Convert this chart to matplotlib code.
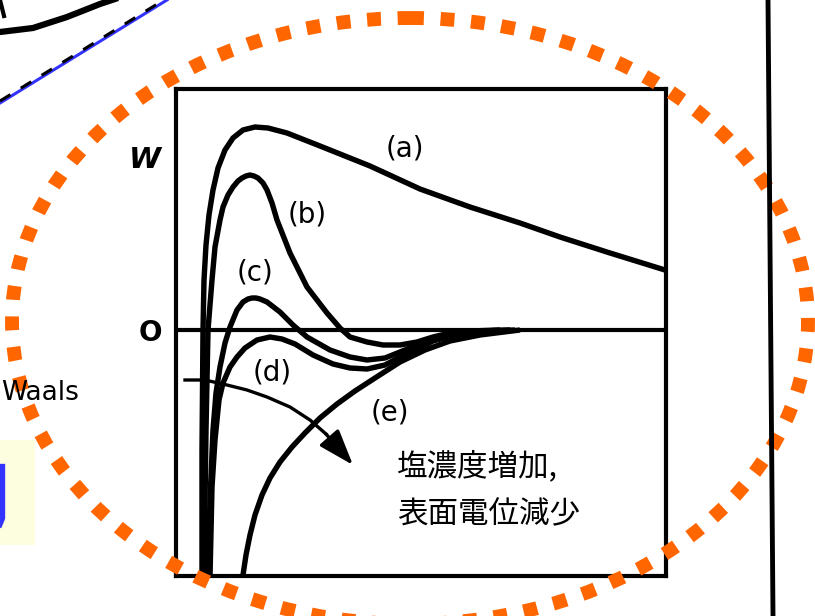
import numpy as np
import matplotlib
matplotlib.use("Agg")
import matplotlib.pyplot as plt
from matplotlib.patches import Ellipse, Rectangle

# ---------------------------
# DATA (x = separation, W = interaction energy, zero at the "O" line)
# ---------------------------

a_x = [26, 26, 27, 28, 30, 33, 37, 42, 49, 57, 67, 79, 92, 111, 144, 194, 244, 294, 344, 384, 434, 489]
a_w = [-247, -120, 0, 50, 85, 115, 140, 162, 180, 192, 200, 203, 202, 197, 184, 164, 141, 123, 107, 93, 77, 60]

b_x = [28, 30, 32, 36, 39, 44, 47, 52, 57, 62, 66, 70, 74, 78, 82, 87, 91, 96, 101, 114, 131, 151, 164, 174, 191, 207, 224, 241, 257, 274, 294, 324]
b_w = [-247, -100, 0, 50, 83, 110, 123, 135, 143, 149, 152, 154, 155, 154, 152, 147, 140, 127, 110, 77, 43, 17, 2, -7, -12, -15, -15, -12, -7, -3, -1, 0]

c_x = [32, 34, 37, 40, 44, 49, 54, 61, 67, 72, 76, 80, 84, 91, 104, 117, 131, 154, 174, 191, 209, 224, 241, 257, 279, 304, 334]
c_w = [-247, -170, -100, -63, -37, -13, 3, 20, 28, 31, 32, 32, 31, 28, 18, 5, -7, -20, -27, -30, -28, -22, -15, -9, -3, -1, 0]

d_x = [34, 36, 39, 43, 47, 54, 61, 69, 81, 94, 106, 119, 137, 157, 174, 191, 209, 224, 241, 257, 279, 304, 339]
d_w = [-247, -157, -110, -70, -53, -37, -27, -18, -10, -7, -9, -14, -25, -34, -38, -39, -35, -27, -19, -11, -5, -1, 0]

e_x = [67, 70, 74, 79, 86, 94, 104, 116, 129, 144, 161, 179, 199, 224, 249, 274, 304, 344]
e_w = [-245, -225, -205, -185, -165, -148, -132, -117, -103, -88, -74, -61, -48, -32, -20, -11, -5, 0]

arrow_x = [9, 29, 51, 71, 91, 114, 134, 150]
arrow_w = [-50, -50, -55, -60, -67, -77, -90, -104]
arrow_tip = (177, -135)

curve_labels = ["(a)", "(b)", "(c)", "(d)", "(e)"]
label_x = [229, 131, 79, 96, 214]
label_w = [182, 115, 58, -42, -83]

note_lines = ["塩濃度増加,", "表面電位減少"]

ORANGE = "#ff6600"
BLUE = "#3333ff"

fig = plt.figure(figsize=(8.15, 6.16), dpi=100)
fig.patch.set_facecolor("white")

# ---------------------------
# MAIN DIAGRAM
# ---------------------------

ax = fig.add_axes([176 / 815, (616 - 576) / 616, 490 / 815, 487 / 616])
ax.set_facecolor("none")
ax.set_xlim(0, 490)
ax.set_ylim(-246, 241)
ax.set_xticks([])
ax.set_yticks([])
for s in ax.spines.values():
    s.set_linewidth(3)

ax.axhline(0, color="black", lw=3)

for xs, ws in [(a_x, a_w), (b_x, b_w), (c_x, c_w), (d_x, d_w), (e_x, e_w)]:
    ax.plot(xs, ws, color="black", lw=3.9, solid_joinstyle="round", solid_capstyle="butt")

ax.plot(arrow_x, arrow_w, color="black", lw=2.4, solid_joinstyle="round")
ax.annotate("", xy=arrow_tip, xytext=(arrow_x[-1], arrow_w[-1]),
            arrowprops=dict(arrowstyle="-|>,head_length=1.0,head_width=0.35",
                            color="black", lw=2.4, mutation_scale=22,
                            shrinkA=0, shrinkB=0))

for lab, lx, lw_ in zip(curve_labels, label_x, label_w):
    ax.text(lx, lw_, lab, fontsize=20, ha="center", va="center")

ax.text(221, -136, note_lines[0], fontsize=22, ha="left", va="center",
        family=["Noto Sans CJK JP", "DejaVu Sans"])
ax.text(221, -185, note_lines[1], fontsize=22, ha="left", va="center",
        family=["Noto Sans CJK JP", "DejaVu Sans"])

ax.text(-31, 170, "W", fontsize=21, fontweight="bold", fontstyle="italic",
        ha="center", va="center", clip_on=False)
ax.text(-26, -3, "O", fontsize=20, fontweight="bold",
        ha="center", va="center", clip_on=False)

# ---------------------------
# SLIDE SURROUNDINGS (pixel space)
# ---------------------------

bg = fig.add_axes([0, 0, 1, 1], zorder=3)
bg.set_facecolor("none")
bg.set_xlim(0, 815)
bg.set_ylim(616, 0)
bg.axis("off")

bg.plot([0, 33, 67, 100, 118], [32, 28, 17, 4, -2], color="black", lw=4.5)
bg.plot([0, 4], [0, 16], color="black", lw=3)
bg.plot([0, 167], [103, 0], color=BLUE, lw=2.2)
bg.plot([0, 167], [101, -2], color="black", lw=2.2, linestyle=(0, (4, 4)))

bg.plot([768, 773], [0, 616], color="black", lw=3.5)

bg.text(1, 400, "Waals", fontsize=19, ha="left", va="baseline")

bg.add_patch(Rectangle((0, 440), 35, 105, facecolor="#fdfde0", edgecolor="none"))
bg.plot([1, 1, -4], [468, 518, 530], color=BLUE, lw=6, solid_joinstyle="round")

bg.add_patch(Ellipse((410, 321), 796, 606, fill=False, edgecolor=ORANGE,
                     lw=10, linestyle=(0, (1, 1.2))))

fig.savefig("out.png", dpi=100)
